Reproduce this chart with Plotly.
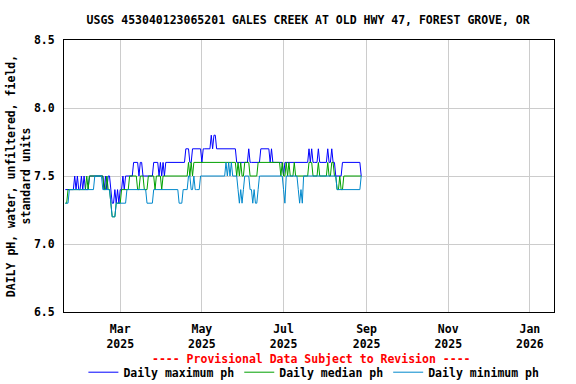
import pandas as pd
import plotly.graph_objects as go

START_DATE = "2025-01-19"

MAX_PH = [
    7.4, 7.4, 7.4, 7.4, 7.4, 7.4, 7.4,
    7.5, 7.4, 7.5, 7.4, 7.4, 7.5, 7.4, 7.5, 7.4, 7.4, 7.4,
    7.5, 7.5, 7.5, 7.5, 7.5, 7.5, 7.5, 7.5, 7.5, 7.5, 7.5,
    7.4, 7.5, 7.4, 7.5, 7.5, 7.4, 7.3, 7.3, 7.4, 7.3, 7.4, 7.3, 7.4, 7.4, 7.5, 7.4, 7.5,
    7.5, 7.5, 7.5, 7.5, 7.5,
    7.6, 7.6, 7.6, 7.6, 7.5, 7.6, 7.6, 7.5,
    7.5, 7.5, 7.5, 7.5, 7.5, 7.5, 7.5,
    7.6, 7.6, 7.6, 7.6, 7.5, 7.6, 7.5,
    7.6, 7.5, 7.6, 7.6, 7.6, 7.6, 7.6, 7.6, 7.6, 7.6, 7.6, 7.6, 7.6, 7.6, 7.6, 7.6, 7.6,
    7.7, 7.7, 7.7, 7.6, 7.6,
    7.7, 7.7, 7.7, 7.7, 7.7, 7.7, 7.7,
    7.6,
    7.7, 7.7, 7.7, 7.7, 7.7, 7.7,
    7.8, 7.7, 7.8, 7.8,
    7.7, 7.7, 7.7, 7.7, 7.7, 7.7, 7.7, 7.7, 7.7, 7.7, 7.7, 7.7, 7.7, 7.7, 7.7,
    7.6, 7.6, 7.6, 7.6, 7.6, 7.6, 7.6, 7.6, 7.6,
    7.7,
    7.6, 7.6, 7.6, 7.6, 7.6, 7.6, 7.6, 7.6,
    7.7, 7.7, 7.7, 7.7, 7.7, 7.7, 7.7,
    7.6, 7.7,
    7.6, 7.6, 7.6, 7.6, 7.6, 7.6, 7.6, 7.6,
    7.5,
    7.6, 7.6, 7.6, 7.6, 7.6, 7.6, 7.6, 7.6, 7.6, 7.6, 7.6, 7.6, 7.6, 7.6, 7.6, 7.6, 7.6, 7.6,
    7.7, 7.6, 7.7,
    7.6, 7.6, 7.6, 7.6,
    7.7,
    7.6, 7.6, 7.6, 7.6, 7.6, 7.6,
    7.7, 7.6, 7.6, 7.7, 7.6, 7.6,
    7.5, 7.5, 7.5, 7.5, 7.5,
    7.6, 7.6, 7.6, 7.6, 7.6, 7.6, 7.6, 7.6, 7.6, 7.6, 7.6, 7.6, 7.6, 7.6,
    7.5,
]

MEDIAN_PH = [
    7.3, 7.3,
    7.4, 7.4, 7.4, 7.4, 7.4, 7.4, 7.4, 7.4, 7.4, 7.4, 7.4, 7.4, 7.4, 7.4,
    7.5, 7.4, 7.5,
    7.5, 7.5, 7.5, 7.5, 7.5, 7.5, 7.5, 7.5, 7.5, 7.5,
    7.4, 7.4, 7.5, 7.4, 7.4, 7.3,
    7.2, 7.2, 7.2,
    7.3, 7.3, 7.3, 7.3,
    7.4, 7.4, 7.4, 7.4, 7.4, 7.4,
    7.5, 7.5, 7.5, 7.5, 7.5, 7.5,
    7.4, 7.4,
    7.5, 7.5, 7.5,
    7.4, 7.4, 7.4,
    7.5, 7.5, 7.5, 7.5, 7.5,
    7.4,
    7.5, 7.5, 7.5, 7.5,
    7.4,
    7.5, 7.5, 7.5, 7.5, 7.5, 7.5, 7.5, 7.5, 7.5, 7.5, 7.5, 7.5, 7.5, 7.5, 7.5, 7.5, 7.5, 7.5, 7.5,
    7.6, 7.5, 7.6, 7.5,
    7.6, 7.6, 7.6, 7.6, 7.6, 7.6, 7.6, 7.6, 7.6, 7.6, 7.6, 7.6, 7.6, 7.6, 7.6, 7.6,
    7.6, 7.6, 7.6, 7.6, 7.6, 7.6, 7.6, 7.6, 7.6, 7.6, 7.6, 7.6, 7.6, 7.6, 7.6, 7.6,
    7.5, 7.6, 7.5, 7.6, 7.5, 7.5,
    7.6, 7.6, 7.6, 7.6,
    7.5, 7.5, 7.5, 7.5, 7.5, 7.5,
    7.6, 7.6, 7.6, 7.6, 7.6, 7.6, 7.6, 7.6, 7.6, 7.6, 7.6, 7.6, 7.6, 7.6, 7.6, 7.6, 7.6,
    7.5, 7.6, 7.5, 7.5, 7.6, 7.5, 7.6, 7.5, 7.5, 7.5, 7.6,
    7.5, 7.5, 7.5, 7.5, 7.5, 7.5, 7.5, 7.5, 7.5, 7.5,
    7.6, 7.6, 7.6,
    7.5, 7.5, 7.5, 7.5,
    7.6,
    7.5, 7.5, 7.5, 7.5, 7.5, 7.5,
    7.6, 7.5, 7.5, 7.6, 7.6,
    7.5, 7.5,
    7.4, 7.4, 7.5, 7.4, 7.4,
    7.5, 7.5, 7.5, 7.5, 7.5, 7.5, 7.5, 7.5, 7.5, 7.5, 7.5, 7.5, 7.5, 7.5,
]

MIN_PH = [
    7.3, 7.3, 7.3,
    7.4, 7.4, 7.4, 7.4, 7.4, 7.4, 7.4, 7.4, 7.4, 7.4, 7.4, 7.4, 7.4, 7.4, 7.4, 7.4, 7.4, 7.4, 7.4,
    7.5, 7.5, 7.5, 7.5, 7.5, 7.5,
    7.4, 7.4, 7.4, 7.4, 7.4, 7.4,
    7.3,
    7.2, 7.2, 7.2,
    7.3, 7.3, 7.3, 7.3, 7.3, 7.3, 7.3, 7.3,
    7.4, 7.4, 7.4, 7.4, 7.4, 7.4, 7.4, 7.4, 7.4, 7.4, 7.4, 7.4, 7.4, 7.4, 7.4,
    7.3, 7.3, 7.3, 7.3, 7.3,
    7.4, 7.4, 7.4, 7.4, 7.4, 7.4, 7.4, 7.4, 7.4, 7.4, 7.4, 7.4, 7.4, 7.4, 7.4, 7.4, 7.4, 7.4, 7.4,
    7.3, 7.3, 7.3,
    7.4, 7.4, 7.4, 7.4,
    7.5, 7.5, 7.4, 7.4, 7.5, 7.4, 7.4, 7.4, 7.4,
    7.5, 7.5, 7.5, 7.5, 7.5, 7.5, 7.5, 7.5, 7.5, 7.5, 7.5, 7.5, 7.5, 7.5, 7.5, 7.5, 7.5, 7.5, 7.5,
    7.6, 7.5, 7.6, 7.5, 7.6, 7.5, 7.5, 7.5, 7.5,
    7.4, 7.3, 7.4, 7.3, 7.4,
    7.5, 7.5, 7.5, 7.5,
    7.4, 7.4, 7.3, 7.4, 7.3, 7.3, 7.4,
    7.5, 7.5, 7.5, 7.5, 7.5, 7.5, 7.5, 7.5, 7.5, 7.5, 7.5, 7.5, 7.5, 7.5, 7.5, 7.5, 7.5, 7.5,
    7.4, 7.3,
    7.5, 7.5, 7.5, 7.5, 7.5, 7.5, 7.5, 7.5, 7.5,
    7.4, 7.3, 7.4, 7.3,
    7.5, 7.5, 7.5, 7.5, 7.5, 7.5, 7.5, 7.5, 7.5, 7.5, 7.5, 7.5, 7.5,
    7.5, 7.5, 7.5, 7.5, 7.5, 7.5, 7.5, 7.5, 7.5, 7.5, 7.5, 7.5,
    7.4, 7.4, 7.4, 7.4, 7.4, 7.4, 7.4, 7.4, 7.4, 7.4, 7.4, 7.4, 7.4, 7.4, 7.4, 7.4, 7.4, 7.4,
    7.5,
]

X_TICK_DATES = ["2025-03-01", "2025-05-01", "2025-07-01", "2025-09-01", "2025-11-01", "2026-01-01"]
X_TICK_LABELS = ["Mar<br>2025", "May<br>2025", "Jul<br>2025", "Sep<br>2025", "Nov<br>2025", "Jan<br>2026"]
Y_TICKS = [6.5, 7.0, 7.5, 8.0, 8.5]

TITLE = "USGS 453040123065201 GALES CREEK AT OLD HWY 47, FOREST GROVE, OR"
Y_TITLE = "DAILY pH, water, unfiltered, field,<br>standard units"

FONT = "DejaVu Sans Mono"
FS = 11.5

def dates(n):
    return pd.date_range(START_DATE, periods=n, freq="D")

fig = go.Figure()
fig.add_trace(go.Scatter(x=dates(len(MAX_PH)), y=MAX_PH, mode="lines",
                         name="Daily maximum ph", line=dict(color="#0000ff", width=1)))
fig.add_trace(go.Scatter(x=dates(len(MEDIAN_PH)), y=MEDIAN_PH, mode="lines",
                         name="Daily median ph", line=dict(color="#00a000", width=1)))
fig.add_trace(go.Scatter(x=dates(len(MIN_PH)), y=MIN_PH, mode="lines",
                         name="Daily minimum ph", line=dict(color="#0088cc", width=1)))

fig.update_layout(
    width=576, height=384,
    margin=dict(l=64, r=22, t=40, b=72, autoexpand=False),
    paper_bgcolor="white", plot_bgcolor="white",
    font=dict(family=FONT, size=FS, color="black", weight="bold"),
    title=dict(text=TITLE, x=0.535, xanchor="center", y=0.948, yanchor="middle",
               font=dict(family=FONT, size=FS, color="black", weight="bold")),
    showlegend=True,
    legend=dict(orientation="h", x=0.51, xanchor="center", y=-0.168, yanchor="top",
                font=dict(family=FONT, size=FS, color="black", weight="bold"),
                itemwidth=30, tracegroupgap=0, bgcolor="rgba(0,0,0,0)"),
    annotations=[dict(text="---- Provisional Data Subject to Revision ----",
                      xref="paper", yref="paper", x=0.505, y=-0.171,
                      xanchor="center", yanchor="middle", showarrow=False,
                      font=dict(family=FONT, size=FS, color="red", weight="bold"))],
)

fig.update_xaxes(
    range=["2025-01-18", "2026-01-19"],
    tickmode="array", tickvals=X_TICK_DATES, ticktext=X_TICK_LABELS,
    showgrid=True, gridcolor="#cccccc", gridwidth=1,
    showline=True, linecolor="black", linewidth=1, mirror=True,
    ticks="", zeroline=False, tickangle=0, automargin=False,
    ticklabelstandoff=6,
)
fig.update_yaxes(
    range=[6.5, 8.5], tickmode="array", tickvals=Y_TICKS,
    ticktext=[f"{v:.1f}" for v in Y_TICKS],
    showgrid=True, gridcolor="#cccccc", gridwidth=1,
    showline=True, linecolor="black", linewidth=1, mirror=True,
    ticks="", zeroline=False, ticklabelstandoff=6, automargin=False,
    title=dict(text=Y_TITLE, standoff=0,
               font=dict(family=FONT, size=FS, color="black", weight="bold")),
)

fig.write_html("out.html")
